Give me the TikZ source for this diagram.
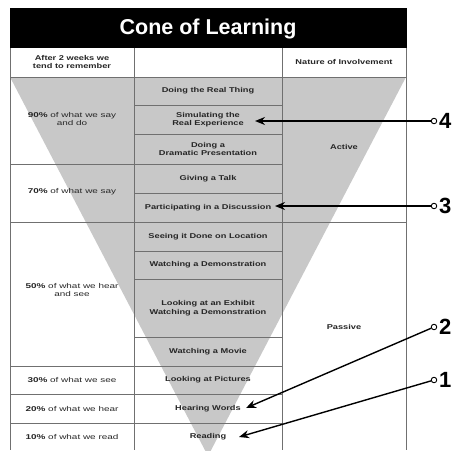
\documentclass[tikz,border=0pt]{standalone}
\usepackage{fontspec}
\setmainfont{Liberation Sans}
\newfontfamily\widebold[FakeStretch=1.32]{Liberation Sans}
\newfontfamily\wideleft[FakeStretch=1.42]{Liberation Sans}
\usetikzlibrary{arrows.meta}
\definecolor{conegray}{HTML}{C8C8C8}
\definecolor{gridgray}{HTML}{707070}
\begin{document}
\begin{tikzpicture}[x=1pt,y=-1pt,
  gridline/.style={draw=gridgray, line width=1pt},
  cell/.style={font=\widebold\fontsize{7}{8.5}\selectfont\bfseries, align=center, text=black!85, inner sep=0pt},
  lcell/.style={font=\wideleft\fontsize{7}{8.5}\selectfont, align=center, text=black!85, inner sep=0pt},
  dot/.style={circle, draw=black, fill=white, line width=0.9pt, minimum size=5.5pt, inner sep=0pt},
  num/.style={font=\fontsize{22}{22}\selectfont\bfseries, anchor=west, inner sep=0pt},
  pointer/.style={draw=black, line width=1.4pt, -{Stealth[length=10pt,width=8pt]}}]
\useasboundingbox (0,0) rectangle (452,450);
\fill[white] (0,0) rectangle (452,450);
\begin{scope}
\clip (0,0) rectangle (452,450);
% cone
\fill[conegray] (10,77) -- (406,77) -- (208,456) -- cycle;
% grid
\draw[gridline] (10,48) -- (10,450);
\draw[gridline] (134,48) -- (134,450);
\draw[gridline] (282,48) -- (282,450);
\draw[gridline] (406,48) -- (406,450);
\draw[gridline] (10,77) -- (406,77);
\draw[gridline] (10,222) -- (406,222);
\foreach \yy in {164,366,394,423} \draw[gridline] (10,\yy) -- (282,\yy);
\foreach \yy in {105,134,193,251,279,337} \draw[gridline] (134,\yy) -- (282,\yy);
\end{scope}
% title
\fill[black] (10,8) rectangle (407,48);
\node[font=\fontsize{21.5}{21.5}\selectfont\bfseries, text=white] (title) at (208,29) {Cone of Learning};
% headers
\node[cell] (h1) at (72,62) {After 2 weeks we\\tend to remember};
\node[cell] (h3) at (344,62) {Nature of Involvement};
% left column
\node[lcell] (l90) at (72,119) {\textbf{90\%} of what we say\\and do};
\node[lcell] (l70) at (72,192) {\textbf{70\%} of what we say};
\node[lcell] (l50) at (72,290) {\textbf{50\%} of what we hear\\and see};
\node[lcell] (l30) at (72,380) {\textbf{30\%} of what we see};
\node[lcell] (l20) at (72,408.5) {\textbf{20\%} of what we hear};
\node[lcell] (l10) at (72,437) {\textbf{10\%} of what we read};
% middle column
\node[cell] (m1) at (208,91) {Doing the Real Thing};
\node[cell] (m2) at (208,119.5) {Simulating the\\Real Experience};
\node[cell] (m3) at (208,149) {Doing a\\Dramatic Presentation};
\node[cell] (m4) at (208,178.5) {Giving a Talk};
\node[cell] (m5) at (208,207.5) {Participating in a Discussion};
\node[cell] (m6) at (208,236.5) {Seeing it Done on Location};
\node[cell] (m7) at (208,265) {Watching a Demonstration};
\node[cell] (m8) at (208,308) {Looking at an Exhibit\\Watching a Demonstration};
\node[cell] (m9) at (208,351.5) {Watching a Movie};
\node[cell] (m10) at (208,380) {Looking at Pictures};
\node[cell] (m11) at (208,408.5) {Hearing Words};
\node[cell] (m12) at (208,437) {Reading};
% right column
\node[cell] (r1) at (344,147) {Active};
\node[cell] (r2) at (344,327) {Passive};
% pointers
\node[dot] (c4) at (434,121) {};
\node[dot] (c3) at (434,206) {};
\node[dot] (c2) at (434,327) {};
\node[dot] (c1) at (434,380) {};
\node[num] (n4) at (439,121) {4};
\node[num] (n3) at (439,206) {3};
\node[num] (n2) at (439,327) {2};
\node[num] (n1) at (439,380) {1};
\coordinate (t4) at (255,121);
\coordinate (t3) at (275,206);
\coordinate (t2) at (246,408);
\coordinate (t1) at (239,437);
\draw[pointer] (c4) -- (t4);
\draw[pointer] (c3) -- (t3);
\draw[pointer] (c2) -- (t2);
\draw[pointer] (c1) -- (t1);
\end{tikzpicture}
\end{document}
